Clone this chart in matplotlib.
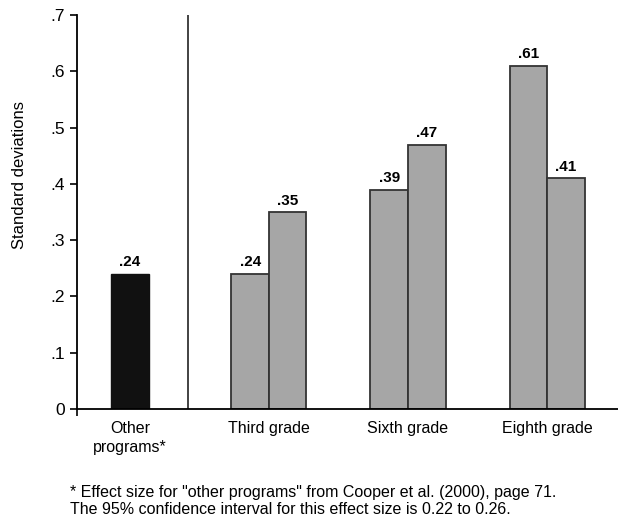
import matplotlib.pyplot as plt

# values
groups = ["Other\nprograms*", "Third grade", "Sixth grade", "Eighth grade"]
other_val = 0.24
first_vals = [0.24, 0.39, 0.61]
second_vals = [0.35, 0.47, 0.41]
value_labels_other = [".24"]
value_labels_first = [".24", ".39", ".61"]
value_labels_second = [".35", ".47", ".41"]
yticks = [0, 0.1, 0.2, 0.3, 0.4, 0.5, 0.6, 0.7]
ytick_labels = ["0", ".1", ".2", ".3", ".4", ".5", ".6", ".7"]
footnote = ('* Effect size for "other programs" from Cooper et al. (2000), page 71.\n'
            'The 95% confidence interval for this effect size is 0.22 to 0.26.')

plt.rcParams['font.family'] = ['Liberation Sans', 'DejaVu Sans']

fig = plt.figure(figsize=(6.18, 5.22), dpi=100)
ax = fig.add_axes([0.1246, 0.2165, 0.8754, 0.7545])

w = 0.27
gray = "#a6a6a6"
b0 = ax.bar([0], [other_val], width=w, color="#111111", edgecolor="#111111")
pos = [1, 2, 3]
b1 = ax.bar([p - w / 2 for p in pos], first_vals, width=w, color=gray,
            edgecolor="#333333", linewidth=1.3)
b2 = ax.bar([p + w / 2 for p in pos], second_vals, width=w, color=gray,
            edgecolor="#333333", linewidth=1.3)

for bars, labs in [(b0, value_labels_other), (b1, value_labels_first), (b2, value_labels_second)]:
    for b, t in zip(bars, labs):
        ax.text(b.get_x() + b.get_width() / 2, b.get_height() + 0.008, t,
                ha="center", va="bottom", fontsize=11, fontweight="bold")

# divider between "other programs" and the grades
ax.axvline(0.42, ymin=0, ymax=1, color="#222222", linewidth=1.2)

ax.set_xlim(-0.38, 3.51)
ax.set_ylim(0, 0.7)
ax.set_yticks(yticks)
ax.set_yticklabels(ytick_labels, fontsize=12.5)
ax.set_xticks([-0.38])
ax.set_xticklabels([""])
for i, g in enumerate(groups):
    ax.text(i, -0.022, g, ha="center", va="top", fontsize=11.5, linespacing=1.3)
ax.tick_params(axis="y", direction="out", length=5, width=1.2, pad=4)
ax.tick_params(axis="x", direction="out", length=5, width=1.2)
ax.set_ylabel("Standard deviations", fontsize=12)
ax.yaxis.set_label_coords(-0.093, 0.595)

for s in ["top", "right"]:
    ax.spines[s].set_visible(False)
ax.spines["left"].set_linewidth(1.3)
ax.spines["bottom"].set_linewidth(1.3)

fig.text(0.113, 0.0095, footnote, fontsize=11.5, va="bottom", linespacing=1.2)

fig.savefig("out.png", dpi=100)
